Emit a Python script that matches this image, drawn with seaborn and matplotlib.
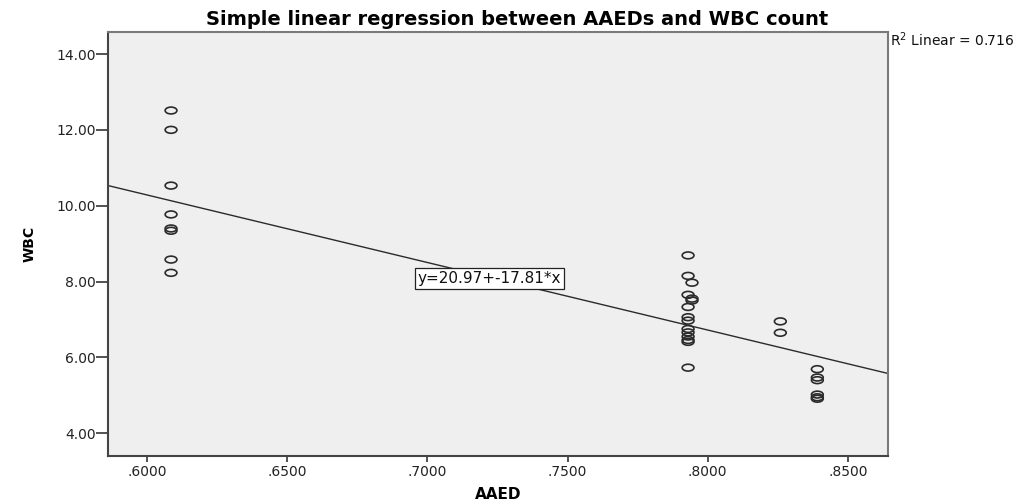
import numpy as np
import seaborn as sns
import matplotlib.pyplot as plt
from matplotlib.path import Path
from matplotlib.transforms import Affine2D

# values
aaed = [0.6086, 0.6086, 0.6086, 0.6086, 0.6086, 0.6086, 0.6086, 0.6086,
        0.7930, 0.7930, 0.7930, 0.7930, 0.7930, 0.7930, 0.7930, 0.7930,
        0.7930, 0.7930, 0.7930, 0.7930, 0.7944, 0.7944, 0.7944,
        0.8259, 0.8259,
        0.8391, 0.8391, 0.8391, 0.8391, 0.8391, 0.8391]
wbc = [12.51, 12.00, 10.53, 9.77, 9.40, 9.34, 8.58, 8.23,
       8.69, 8.15, 7.65, 7.33, 7.06, 6.97, 6.75, 6.66,
       6.55, 6.46, 6.41, 5.73, 7.97, 7.55, 7.50,
       6.95, 6.65,
       5.69, 5.47, 5.40, 5.02, 4.95, 4.91]

intercept = 20.97
slope = -17.81
r2 = 0.716

x_ticks = [0.60, 0.65, 0.70, 0.75, 0.80, 0.85]
x_tick_labels = [".6000", ".6500", ".7000", ".7500", ".8000", ".8500"]
y_ticks = [4, 6, 8, 10, 12, 14]
y_tick_labels = ["4.00", "6.00", "8.00", "10.00", "12.00", "14.00"]

sns.set_style("white")
plt.rcParams["font.family"] = ["DejaVu Sans"]

fig = plt.figure(figsize=(10.34, 5.04), dpi=100)
ax = fig.add_axes([0.1044, 0.0952, 0.7544, 0.8413])
ax.set_facecolor("#efefef")

# open, slightly flattened circles like the SPSS markers
ring = Affine2D().scale(1.0, 0.58).transform_path(Path.unit_circle())
sns.scatterplot(x=aaed, y=wbc, marker=ring, s=72, color="#2b2b2b",
                facecolor="none", edgecolor="#2b2b2b", linewidth=1.2, ax=ax)

ax.axline((0, intercept), slope=slope, color="#2b2b2b", lw=1.0)

ax.set_xlim(0.5861, 0.8643)
ax.set_ylim(3.4, 14.58)
ax.set_xticks(x_ticks, x_tick_labels)
ax.set_yticks(y_ticks, y_tick_labels)
ax.tick_params(axis="x", bottom=True, direction="out", length=4.5, width=1.3,
               color="#444444", pad=2, labelsize=10, labelcolor="#222222")
ax.tick_params(axis="y", left=True, direction="out", length=8.5, width=1.3,
               color="#444444", pad=0.5, labelsize=10, labelcolor="#222222")

for side in ["left", "bottom"]:
    ax.spines[side].set_color("#444444")
    ax.spines[side].set_linewidth(1.5)
for side in ["top", "right"]:
    ax.spines[side].set_color("#7a7a7a")
    ax.spines[side].set_linewidth(1.5)

ax.set_xlabel("AAED", fontsize=11, fontweight="bold", labelpad=6, color="black")
ax.set_ylabel("WBC", fontsize=10, fontweight="bold", labelpad=14, color="black")

ax.text(0.6966, 8.08, f"y={intercept:.2f}+{slope:.2f}*x", fontsize=11,
        ha="left", va="center", color="#111111",
        bbox=dict(boxstyle="square,pad=0.2", fc="white", ec="#222222", lw=0.9))

ax.text(1.002, 0.981, f"R$^2$ Linear = {r2:.3f}", transform=ax.transAxes,
        fontsize=10, ha="left", va="center", color="#111111")

fig.suptitle("Simple linear regression between AAEDs and WBC count",
             fontsize=14, fontweight="bold", y=0.962, va="center", color="black")

fig.savefig("out.png", dpi=100)
